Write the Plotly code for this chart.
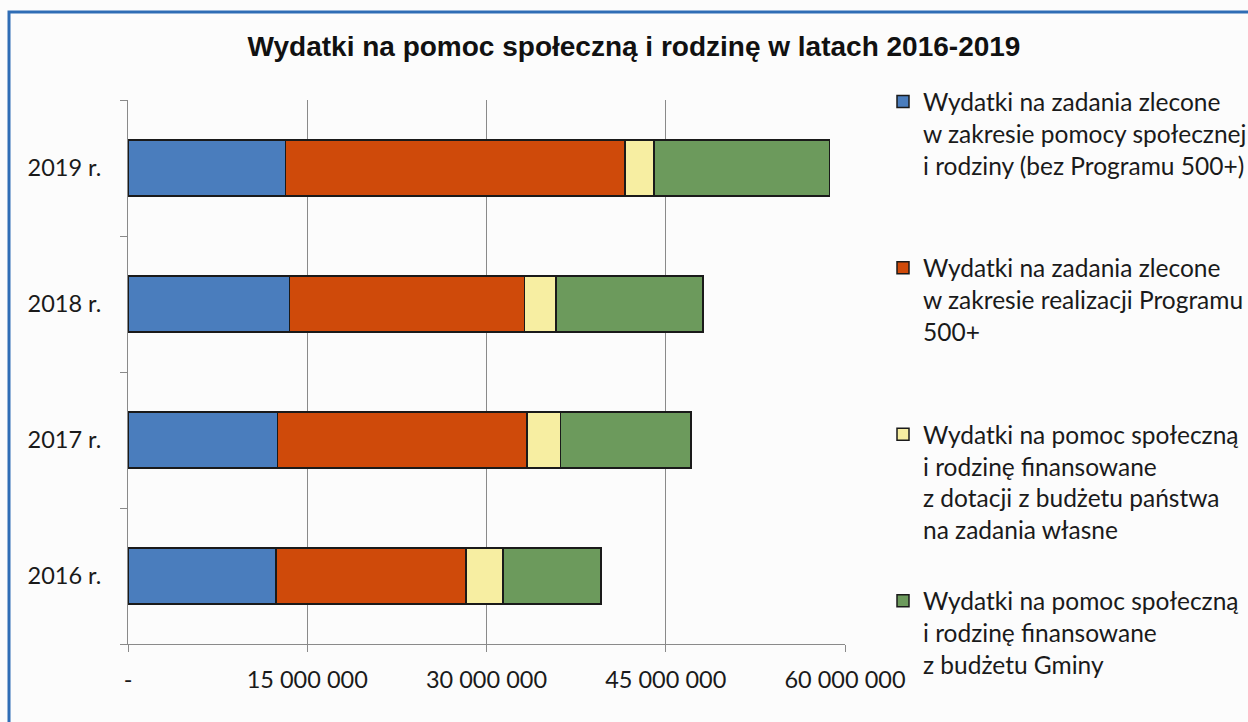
import plotly.graph_objects as go

# ---- data ----
years = ["2016 r.", "2017 r.", "2018 r.", "2019 r."]
zlecone_bez_500 = [12_400_000, 12_500_000, 13_500_000, 13_200_000]
program_500 = [15_900_000, 20_900_000, 19_700_000, 28_400_000]
dotacje_wlasne = [3_100_000, 2_800_000, 2_600_000, 2_400_000]
budzet_gminy = [8_200_000, 10_900_000, 12_300_000, 14_700_000]

NB = "\u00a0"
series_names = [
    "Wydatki na zadania zlecone<br>w zakresie pomocy społecznej<br>i rodziny (bez Programu 500+)<br>" + NB,
    "Wydatki na zadania zlecone<br>w zakresie realizacji Programu<br>500+<br>" + NB,
    "Wydatki na pomoc społeczną<br>i rodzinę finansowane<br>z dotacji z budżetu państwa<br>na zadania własne",
    "Wydatki na pomoc społeczną<br>i rodzinę finansowane<br>z budżetu Gminy<br>" + NB,
]
series_values = [zlecone_bez_500, program_500, dotacje_wlasne, budzet_gminy]
series_colors = ["#4a7dbd", "#cf4a0a", "#f7eea2", "#6c9a5c"]

x_tick_values = [0, 15_000_000, 30_000_000, 45_000_000, 60_000_000]
x_tick_labels = ["-", "15 000 000", "30 000 000", "45 000 000", "60 000 000"]

title_text = "Wydatki na pomoc społeczną i rodzinę w latach 2016-2019"

FONT = "Lato"

fig = go.Figure()
for i, (name, vals, col) in enumerate(zip(series_names, series_values, series_colors)):
    fig.add_trace(go.Bar(
        y=years, x=vals, name=name, orientation="h",
        marker=dict(color=col, line=dict(color="#1a1a1a", width=1.5)),
        legendgroup=f"g{i}",
    ))

W, H = 1248, 722
L, R, T, B = 128, 403, 100, 78
pw, ph = W - L - R, H - T - B

def px_x(p):
    return (p - L) / pw

def px_y(p):
    return (H - B - p) / ph

fig.update_layout(
    width=W, height=H,
    margin=dict(l=L, r=R, t=T, b=B, autoexpand=False),
    barmode="stack",
    bargap=0.59,
    paper_bgcolor="#fcfcfc",
    plot_bgcolor="#fcfcfc",
    font=dict(family=FONT, size=23.5, color="#1a1a1a"),
    title=dict(
        text=f"<b>{title_text}</b>",
        x=634 / W, xanchor="center", xref="container",
        y=1 - 46 / H, yanchor="middle", yref="container",
        font=dict(family="Liberation Sans", size=28, color="#111111"),
    ),
    xaxis=dict(
        range=[0, 60_000_000],
        tickvals=x_tick_values, ticktext=x_tick_labels,
        showgrid=True, gridcolor="#8a8a8a", gridwidth=1,
        showline=True, linecolor="#8a8a8a", linewidth=1,
        ticks="outside", ticklen=7, tickcolor="#8a8a8a",
        ticklabelstandoff=8,
        zeroline=False,
        tickfont=dict(family=FONT, size=23.5),
    ),
    yaxis=dict(
        categoryorder="array", categoryarray=years,
        showline=True, linecolor="#8a8a8a", linewidth=1,
        ticks="outside", ticklen=7, tickcolor="#8a8a8a",
        tickson="boundaries",
        ticklabelstandoff=21,
        showgrid=False,
        tickfont=dict(family=FONT, size=23.5),
    ),
    legend=dict(
        x=px_x(883), xanchor="left",
        y=px_y(79), yanchor="top",
        valign="top",
        traceorder="grouped",
        tracegroupgap=36,
        maxheight=720,
        bgcolor="rgba(0,0,0,0)",
        font=dict(family=FONT, size=24.5, color="#1a1a1a"),
    ),
    shapes=[dict(
        type="rect", xref="paper", yref="paper",
        x0=px_x(9), x1=px_x(1262), y0=px_y(740), y1=px_y(12),
        line=dict(color="#2f6db5", width=3), fillcolor="rgba(0,0,0,0)",
        layer="below",
    )],
)

fig.write_html(
    "out.html",
    config={"displayModeBar": False},
    post_script="document.body.style.margin='0';",
)
